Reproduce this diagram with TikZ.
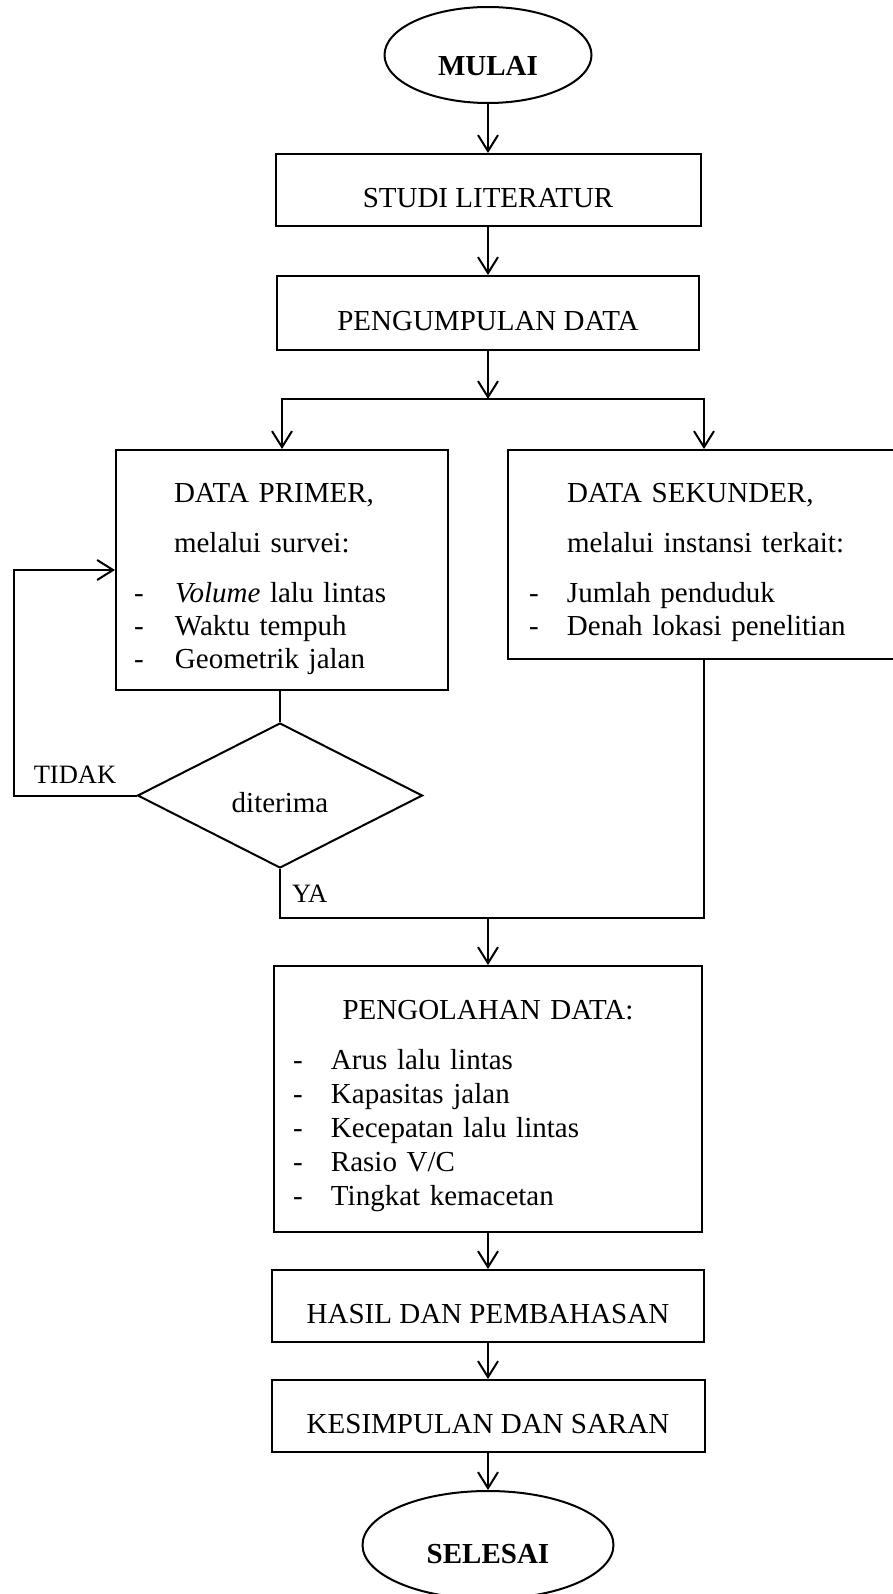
\documentclass[tikz,border=0pt]{standalone}
\usepackage{fontspec}
\setmainfont{Liberation Serif}
\usepackage{tikz}
\usetikzlibrary{arrows.meta,shapes.geometric,positioning}
\tikzstyle{every node}=[font=\fontsize{29}{33}\selectfont]
\tikzstyle{terminal}=[ellipse,draw,inner sep=1pt,text depth=0pt,font=\fontsize{29}{33}\selectfont\bfseries]
\tikzstyle{process}=[rectangle,draw,minimum height=72pt,text height=35pt,text depth=0pt]
\tikzstyle{listbox}=[rectangle,draw,align=left]
\tikzstyle{decision}=[diamond,draw,inner sep=0pt,minimum width=285pt,minimum height=145pt,text height=34pt,text depth=0pt]
\tikzstyle{tag}=[inner sep=0pt,font=\fontsize{26.5}{30}\selectfont]
\tikzstyle{every edge}=[draw,line width=2pt]

\begin{document}
\begin{tikzpicture}[line width=2pt,>={Straight Barb[length=16pt,width=20pt]}]
  \useasboundingbox (0,0) rectangle (893pt,-1594pt);
  \clip (0,0) rectangle (893pt,-1594pt);

  \node[terminal,minimum width=207pt,minimum height=96pt,text height=42pt] (mulai) at (488pt,-55pt) {MULAI};
  \node[process,minimum width=425pt] (studi) [below=49pt of mulai] {STUDI LITERATUR};
  \node[process,minimum width=422pt,minimum height=74pt] (kumpul) [below=48pt of studi] {PENGUMPULAN DATA};
  \coordinate[below=48pt of kumpul] (split);

  \node[listbox,text width=296pt,inner xsep=18pt,minimum height=240pt] (primer) [below=50pt of split,xshift=-206pt]
    {\rule{0pt}{37pt}\hspace*{40pt}DATA PRIMER,\\[17pt]
     \hspace*{40pt}melalui survei:\\[17pt]
     \makebox[41pt][l]{-}\textit{Volume} lalu lintas\\
     \makebox[41pt][l]{-}Waktu tempuh\\
     \makebox[41pt][l]{-}Geometrik jalan};
  \node[listbox,text width=350pt,inner xsep=21pt,minimum height=209pt] (sekunder) [below=50pt of split,xshift=216pt]
    {\rule{0pt}{36pt}\hspace*{38pt}DATA SEKUNDER,\\[17pt]
     \hspace*{38pt}melalui instansi terkait:\\[17pt]
     \makebox[38pt][l]{-}Jumlah penduduk\\
     \makebox[38pt][l]{-}Denah lokasi penelitian};

  \node[decision] (dia) [below=31pt of primer,xshift=-2pt] {diterima};
  \coordinate[left=123pt of dia.west] (back);
  \coordinate[below=49pt of dia.south] (ya);
  \coordinate (merge) at (ya -| split);

  \node[listbox,text width=390pt,inner xsep=19pt,minimum height=266pt,font=\fontsize{29}{34}\selectfont] (olah) [below=47pt of merge]
    {\rule{0pt}{34pt}\makebox[390pt]{PENGOLAHAN DATA:}\\[16pt]
     \makebox[38pt][l]{-}Arus lalu lintas\\
     \makebox[38pt][l]{-}Kapasitas jalan\\
     \makebox[38pt][l]{-}Kecepatan lalu lintas\\
     \makebox[38pt][l]{-}Rasio V/C\\
     \makebox[38pt][l]{-}Tingkat kemacetan};
  \node[process,minimum width=432pt] (hasil) [below=36pt of olah] {HASIL DAN PEMBAHASAN};
  \node[process,minimum width=433pt] (simpul) [below=36pt of hasil] {KESIMPULAN DAN SARAN};
  \node[terminal,minimum width=251pt,minimum height=108pt,text height=36pt] (selesai) [below=37pt of simpul] {SELESAI};

  \path[->] (mulai) edge (studi)
    (studi) edge (kumpul)
    (kumpul) edge (split)
    (merge) edge (olah)
    (olah) edge (hasil)
    (hasil) edge (simpul)
    (simpul) edge (selesai);
  \draw[->] (split) -| (primer);
  \draw[->] (split) -| (sekunder);
  \draw (primer.south -| dia.north) -- (dia.north);
  \draw[->] (dia.west) -- node[tag,above=11pt] {TIDAK} (back) |- (primer.west);
  \draw (dia.south) -- (ya) node[tag,above right=15pt and 11pt] {YA} -| (sekunder.south);
\end{tikzpicture}
\end{document}
